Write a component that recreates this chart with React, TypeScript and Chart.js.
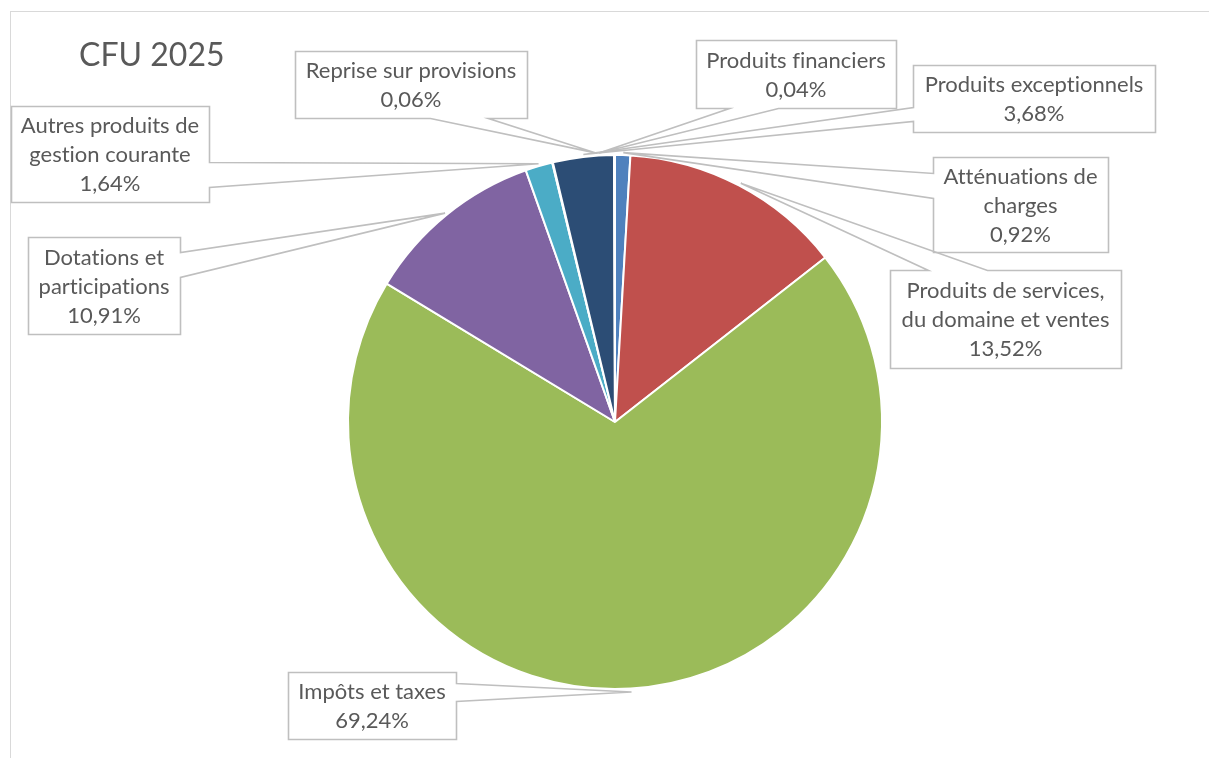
import React, { useEffect, useRef } from "react";
import { Chart, registerables } from "chart.js";

Chart.register(...registerables);

const title = "CFU 2025";
const categories = [
  "Atténuations de charges",
  "Produits de services, du domaine et ventes",
  "Impôts et taxes",
  "Dotations et participations",
  "Autres produits de gestion courante",
  "Produits financiers",
  "Produits exceptionnels",
  "Reprise sur provisions",
];
const values = [0.92, 13.52, 69.24, 10.91, 1.64, 0.04, 3.68, 0.06];
const labelLines = [
  ["Atténuations de", "charges"],
  ["Produits de services,", "du domaine et ventes"],
  ["Impôts et taxes"],
  ["Dotations et", "participations"],
  ["Autres produits de", "gestion courante"],
  ["Produits financiers"],
  ["Produits exceptionnels"],
  ["Reprise sur provisions"],
];
const colors = ["#4F81BD", "#C0504D", "#9BBB59", "#8064A2", "#4BACC6", "#F79646", "#2C4D75", "#772C2A"];

// callout boxes: x, y, w, h, side of the wedge, two base points along that side, optional tip angle (deg from top)
type Callout = { x: number; y: number; w: number; h: number; side: string; b1: number; b2: number; tipAngle?: number };
const callouts: Callout[] = [
  { x: 933, y: 157, w: 175, h: 95, side: "left", b1: 173, b2: 198 },
  { x: 890, y: 270, w: 231, h: 98, side: "top", b1: 928, b2: 987 },
  { x: 288, y: 672, w: 168, h: 67, side: "right", b1: 683, b2: 701 },
  { x: 28, y: 237, w: 152, h: 97, side: "right", b1: 252, b2: 277 },
  { x: 11, y: 106, w: 198, h: 96, side: "right", b1: 162, b2: 187 },
  { x: 696, y: 40, w: 200, h: 68, side: "bottom", b1: 729, b2: 778, tipAngle: -3.5 },
  { x: 913, y: 65, w: 242, h: 67, side: "left", b1: 107, b2: 121 },
  { x: 295, y: 51, w: 232, h: 67, side: "bottom", b1: 430, b2: 488, tipAngle: -4 },
];

const fmt = (v: number) => v.toFixed(2).replace(".", ",") + "%";

const FONT = "Lato";
const TEXT_COLOR = "#595959";
const LINE_COLOR = "#BFBFBF";

const calloutPlugin = {
  id: "callouts",
  afterDatasetsDraw(chart: any) {
    const ctx = chart.ctx as any;
    const meta = chart.getDatasetMeta(0);
    ctx.save();
    if ("letterSpacing" in ctx) ctx.letterSpacing = "0.01px";
    // frame
    ctx.strokeStyle = "#D9D9D9";
    ctx.lineWidth = 1;
    ctx.strokeRect(10.5, 11.5, 1400, 1000);
    // title
    ctx.fillStyle = TEXT_COLOR;
    ctx.font = `32px ${FONT}`;
    ctx.textAlign = "left";
    ctx.textBaseline = "middle";
    ctx.fillText(title, 79, 56);

    meta.data.forEach((arc: any, i: number) => {
      const p = arc.getProps(["x", "y", "startAngle", "endAngle", "outerRadius"], true);
      const c = callouts[i];
      const ang = c.tipAngle !== undefined ? ((c.tipAngle - 90) * Math.PI) / 180 : (p.startAngle + p.endAngle) / 2;
      const r = p.outerRadius + 3;
      const tx = p.x + Math.cos(ang) * r;
      const ty = p.y + Math.sin(ang) * r;
      const L = c.x, T = c.y, R = c.x + c.w, B = c.y + c.h;
      const lo = Math.min(c.b1, c.b2), hi = Math.max(c.b1, c.b2);
      const pts: number[][] = [];
      pts.push([L, T]);
      if (c.side === "top") { pts.push([lo, T], [tx, ty], [hi, T]); }
      pts.push([R, T]);
      if (c.side === "right") { pts.push([R, lo], [tx, ty], [R, hi]); }
      pts.push([R, B]);
      if (c.side === "bottom") { pts.push([hi, B], [tx, ty], [lo, B]); }
      pts.push([L, B]);
      if (c.side === "left") { pts.push([L, hi], [tx, ty], [L, lo]); }
      ctx.fillStyle = "#FFFFFF";
      ctx.fillRect(L, T, c.w, c.h);
      ctx.beginPath();
      pts.forEach((pt, k) => (k === 0 ? ctx.moveTo(pt[0] + 0.5, pt[1] + 0.5) : ctx.lineTo(pt[0] + 0.5, pt[1] + 0.5)));
      ctx.closePath();
      ctx.strokeStyle = LINE_COLOR;
      ctx.lineWidth = 1.6;
      ctx.lineJoin = "miter";
      ctx.stroke();
      // text
      const lines = [...labelLines[i], fmt(values[i])];
      const lh = 29;
      const cy = T + c.h / 2;
      ctx.fillStyle = TEXT_COLOR;
      ctx.font = `22px ${FONT}`;
      ctx.textAlign = "center";
      ctx.textBaseline = "middle";
      lines.forEach((ln, k) => {
        ctx.fillText(ln, L + c.w / 2, cy + (k - (lines.length - 1) / 2) * lh + 1);
      });
    });
    ctx.restore();
  },
};

export default function App() {
  const ref = useRef<HTMLCanvasElement | null>(null);
  useEffect(() => {
    if (!ref.current) return;
    const chart = new Chart(ref.current, {
      type: "pie",
      data: {
        labels: categories,
        datasets: [
          {
            data: values,
            backgroundColor: colors,
            borderColor: "#FFFFFF",
            borderWidth: 2,
          },
        ],
      },
      options: {
        responsive: false,
        animation: false,
        layout: { padding: { left: 347, right: 326, top: 154, bottom: 68 } },
        plugins: {
          legend: { display: false },
          tooltip: { enabled: false },
          title: { display: false },
        },
      },
      plugins: [calloutPlugin],
    });
    return () => chart.destroy();
  }, []);
  return (
    <div style={{ position: "fixed", left: 0, top: 0, width: 1209, height: 758, background: "#fff" }}>
      <canvas ref={ref} width={1209} height={758} style={{ display: "block" }} />
    </div>
  );
}
